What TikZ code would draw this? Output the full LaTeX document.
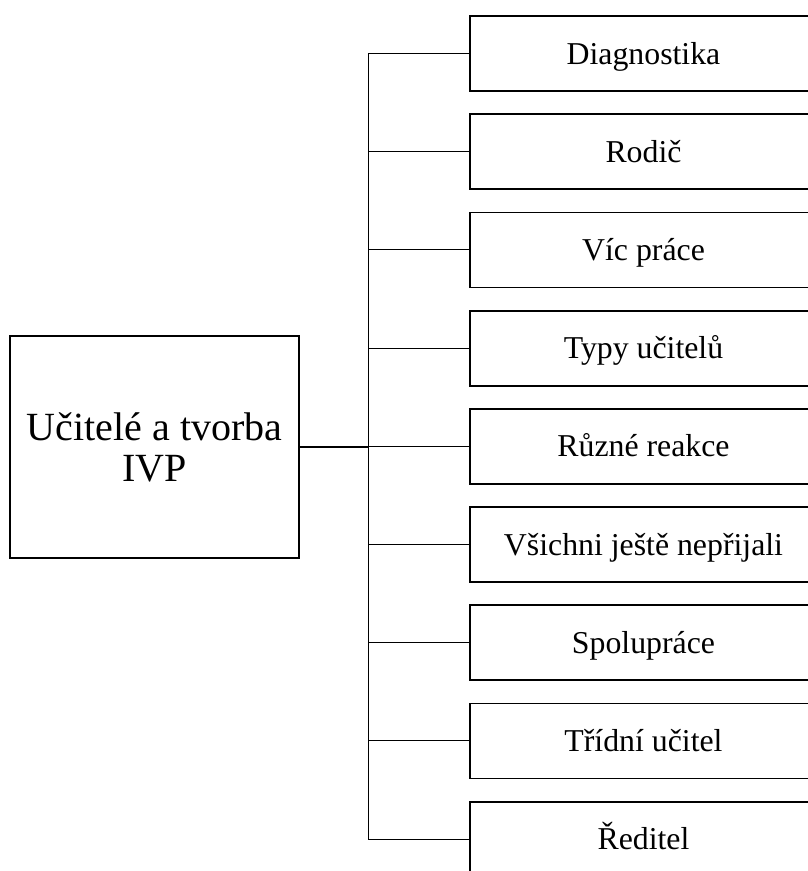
\documentclass[tikz,border=0pt]{standalone}
\usepackage{fontspec}
\setmainfont{Liberation Serif}
\begin{document}
\begin{tikzpicture}[x=1pt,y=-1pt,
  itembox/.style={draw,line width=1.8pt,minimum width=347pt,minimum height=75pt,
    inner sep=0pt,text height=21pt,text depth=0pt,font=\fontsize{31.8}{34}\selectfont},
  mainbox/.style={draw,line width=1.8pt,minimum width=289pt,minimum height=222pt,
    inner sep=0pt,align=center,font=\fontsize{40}{41}\selectfont},
  link/.style={line width=1pt},
  mainlink/.style={line width=1.5pt}]
\useasboundingbox (0,0) rectangle (808,871);
\begin{scope}
\clip (0,0) rectangle (808,871);
\node[mainbox] (main) at (154.5,447) {Učitelé a tvorba\\IVP};
\node[itembox] (b1) at (643.5,53.5) {Diagnostika};
\node[itembox] (b2) at (643.5,151.7) {Rodič};
\node[itembox] (b3) at (643.5,249.9) {Víc práce};
\node[itembox] (b4) at (643.5,348.1) {Typy učitelů};
\node[itembox] (b5) at (643.5,446.3) {Různé reakce};
\node[itembox] (b6) at (643.5,544.5) {Všichni ještě nepřijali};
\node[itembox] (b7) at (643.5,642.7) {Spolupráce};
\node[itembox] (b8) at (643.5,740.9) {Třídní učitel};
\node[itembox] (b9) at (643.5,839.1) {Ředitel};
\coordinate (spine) at (368,0);
% vertical trunk and branches
\draw[link] (b1.west -| spine) -- (b9.west -| spine);
\foreach \i in {1,...,9}{
  \draw[link] (b\i.west) -- (b\i.west -| spine);
}
\draw[mainlink] (main.east) -- (main.east -| spine);
\end{scope}
\end{tikzpicture}
\end{document}
